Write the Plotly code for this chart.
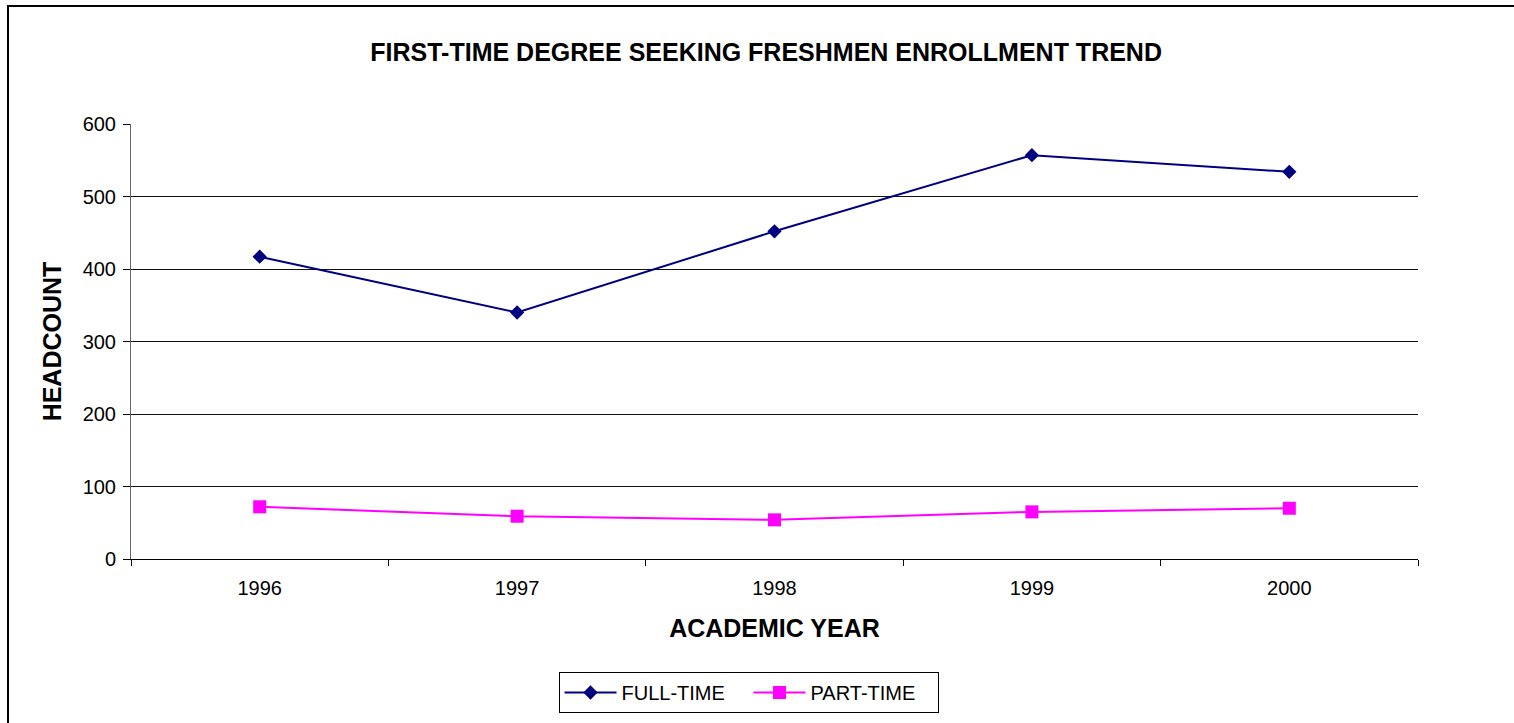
import plotly.graph_objects as go

years = ["1996", "1997", "1998", "1999", "2000"]
full_time = [417, 340, 452, 557, 534]
part_time = [72, 59, 54, 65, 70]

FONT = "Arial, Liberation Sans, sans-serif"

fig = go.Figure()
fig.add_trace(go.Scatter(
    x=years, y=full_time, name="FULL-TIME", mode="lines+markers",
    line=dict(color="#000080", width=2),
    marker=dict(symbol="diamond", size=11, color="#000080"),
))
fig.add_trace(go.Scatter(
    x=years, y=part_time, name="PART-TIME", mode="lines+markers",
    line=dict(color="#FF00FF", width=2),
    marker=dict(symbol="square", size=13, color="#FF00FF"),
))

fig.update_layout(
    width=1514, height=723,
    margin=dict(l=131, r=96, t=124, b=164, autoexpand=False),
    paper_bgcolor="white", plot_bgcolor="white",
    font=dict(family=FONT, size=20, color="black"),
    title=dict(text="<b>FIRST-TIME DEGREE SEEKING FRESHMEN ENROLLMENT TREND</b>",
               x=0.4935, xref="paper", xanchor="center", y=0.928, yanchor="middle",
               font=dict(family=FONT, size=25, color="black")),
    showlegend=True,
    legend=dict(orientation="h", x=0.4798, xanchor="center", y=-0.2598, yanchor="top",
                bordercolor="black", borderwidth=1, bgcolor="white",
                font=dict(family=FONT, size=20, color="black"),
                itemwidth=52, entrywidth=122, tracegroupgap=0),
)

fig.update_xaxes(
    type="category", range=[-0.5, 4.5], automargin=False,
    tickson="boundaries", ticks="outside", ticklen=6, tickcolor="black",
    ticklabelstandoff=11,
    showline=True, linecolor="black", linewidth=1,
    showgrid=False, zeroline=False,
    tickfont=dict(family=FONT, size=20, color="black"),
    title=dict(text="<b>ACADEMIC YEAR</b>", standoff=21,
               font=dict(family=FONT, size=25, color="black")),
)
fig.update_yaxes(
    range=[0, 600], dtick=100, tick0=0, automargin=False,
    ticks="outside", ticklen=7, tickcolor="black",
    ticklabelstandoff=3,
    showline=True, linecolor="#666666", linewidth=1,
    showgrid=True, gridcolor="#111111", gridwidth=1, zeroline=False,
    tickfont=dict(family=FONT, size=20, color="black"),
    title=dict(text="<b>HEADCOUNT</b>", standoff=13,
               font=dict(family=FONT, size=25, color="black")),
)

# outer chart border (extends beyond the visible right and bottom edges)
fig.add_shape(type="rect", xref="paper", yref="paper",
              x0=(8 - 131) / 1287, x1=1.2, y0=-0.6, y1=(559 - 6) / 435,
              line=dict(color="black", width=2), fillcolor="rgba(0,0,0,0)", layer="below")

fig.write_html("out.html", config={"displayModeBar": False},
               post_script="document.body.style.margin='0px';")
